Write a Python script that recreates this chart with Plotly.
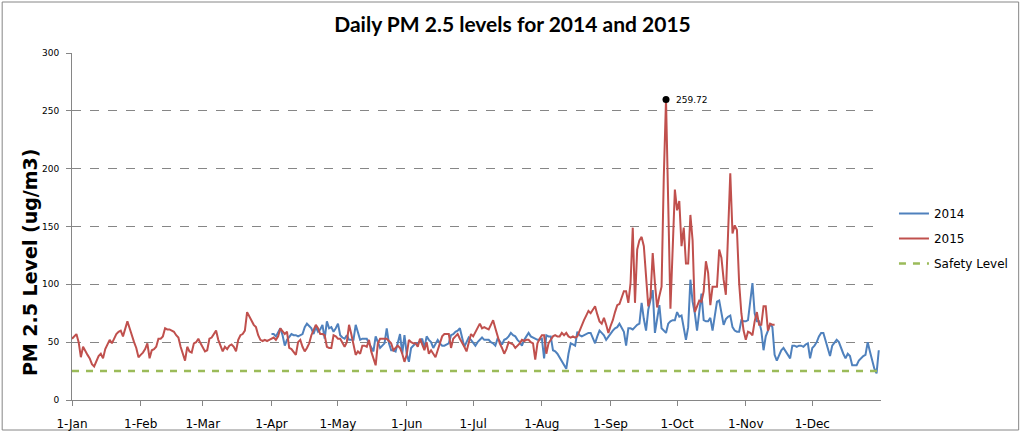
import plotly.graph_objects as go
import pandas as pd

# ---------------- data ----------------
YEAR_START = "2015-01-01"          # calendar used for the shared day-of-year axis
START_2014 = "2015-04-01"          # 2014 series begins on 1-Apr
SAFETY_LEVEL = 25

pm_2015 = [
    53, 55, 57, 50, 37, 46, 42, 39, 36, 31,
    29, 33, 38, 40, 36, 44, 48, 52, 49, 53,
    57, 59, 60, 55, 62, 68, 62, 55, 50, 45,
    37, 39, 41, 44, 49, 36, 43, 44, 46, 53,
    53, 55, 62, 61, 61, 60, 59, 56, 54, 46,
    40, 34, 46, 42, 41, 49, 50, 53, 49, 46,
    42, 43, 53, 54, 57, 60, 52, 47, 42, 46,
    44, 47, 48, 46, 42, 52, 56, 57, 60, 76,
    72, 68, 65, 63, 56, 52, 51, 52, 51, 52,
    53, 54, 52, 55, 62, 59, 57, 59, 45, 44,
    41, 39, 50, 52, 46, 42, 45, 49, 56, 60,
    65, 62, 57, 57, 56, 46, 45, 45, 56, 55,
    53, 53, 50, 46, 50, 65, 57, 49, 39, 42,
    40, 47, 47, 46, 52, 42, 36, 30, 49, 53,
    53, 53, 53, 51, 49, 43, 45, 47, 45, 40,
    33, 39, 52, 50, 49, 49, 46, 53, 48, 43,
    50, 40, 43, 40, 37, 43, 50, 55, 57, 57,
    57, 45, 53, 55, 57, 53, 50, 46, 42, 49,
    57, 55, 59, 62, 66, 62, 63, 62, 61, 65,
    69, 62, 55, 49, 45, 40, 44, 50, 49, 48,
    45, 47, 49, 52, 51, 52, 52, 50, 49, 35,
    49, 53, 56, 56, 40, 49, 52, 55, 56, 55,
    55, 58, 56, 58, 55, 54, 55, 54, 55, 60,
    64, 69, 73, 77, 75, 78, 81, 74, 68, 66,
    71, 65, 58, 64, 69, 76, 82, 83, 88, 94,
    94, 84, 101, 149, 84, 130, 138, 141, 133, 104,
    81, 89, 127, 101, 80, 90, 98, 193, 259.72, 170,
    79, 130, 182, 164, 172, 133, 149, 118, 118, 160,
    138, 76, 82, 86, 85, 94, 120, 110, 82, 98,
    98, 98, 130, 123, 104, 91, 144, 196, 144, 151,
    147, 101, 75, 60, 52, 59, 58, 56, 68, 76,
    65, 65, 81, 81, 60, 66, 65, 65,
]

pm_2014 = [
    57, 57, 55, 59, 62, 56, 47, 52, 55, 57,
    56, 56, 55, 56, 57, 63, 66, 64, 62, 57,
    63, 59, 61, 65, 53, 68, 62, 63, 59, 62,
    66, 56, 54, 53, 56, 52, 52, 52, 65, 58,
    52, 53, 53, 53, 49, 45, 42, 55, 50, 45,
    47, 49, 62, 49, 43, 43, 42, 50, 57, 40,
    56, 40, 33, 45, 47, 49, 49, 51, 53, 45,
    55, 52, 50, 45, 48, 52, 49, 47, 47, 48,
    49, 56, 57, 59, 60, 62, 55, 46, 50, 54,
    52, 49, 47, 50, 52, 54, 52, 52, 52, 50,
    49, 47, 53, 51, 48, 52, 53, 55, 58, 56,
    55, 52, 50, 47, 52, 55, 58, 55, 54, 53,
    52, 52, 53, 36, 56, 55, 55, 43, 42, 40,
    37, 34, 30, 27, 40, 49, 48, 47, 59, 56,
    55, 56, 57, 58, 58, 54, 49, 55, 60, 58,
    56, 52, 55, 58, 60, 62, 63, 66, 62, 59,
    47, 62, 62, 61, 63, 65, 66, 84, 70, 60,
    78, 86, 95, 58, 70, 82, 62, 60, 58, 66,
    68, 69, 69, 76, 72, 73, 62, 52, 63, 104,
    85, 75, 60, 75, 92, 69, 68, 68, 71, 60,
    72, 85, 86, 75, 65, 70, 72, 73, 63, 60,
    59, 59, 69, 68, 68, 69, 85, 101, 75, 68,
    68, 60, 43, 55, 60, 66, 63, 39, 34, 38,
    43, 45, 42, 40, 36, 47, 47, 46, 47, 47,
    46, 48, 49, 36, 45, 47, 50, 55, 58, 58,
    52, 45, 38, 47, 50, 52, 50, 44, 40, 36,
    40, 38, 30, 30, 30, 34, 36, 38, 39, 50,
    42, 33, 27, 23, 43,
]

month_labels = ["1-Jan", "1-Feb", "1-Mar", "1-Apr", "1-May", "1-Jun",
                "1-Jul", "1-Aug", "1-Sep", "1-Oct", "1-Nov", "1-Dec"]

# ---------------- derived ----------------
dates_2015 = pd.date_range(YEAR_START, periods=len(pm_2015), freq="D")
dates_2014 = pd.date_range(START_2014, periods=len(pm_2014), freq="D")
month_ticks = pd.date_range(YEAR_START, periods=len(month_labels), freq="MS")
year_days = pd.date_range(YEAR_START, periods=365, freq="D")
peak_idx = max(range(len(pm_2015)), key=lambda i: pm_2015[i])

BLUE = "#4F81BD"
RED = "#C0504D"
GREEN = "#9BBB59"
GRID = "#868686"

W, H = 1025, 442
L, R, T, B = 72, 142, 53, 42
PW, PH = W - L - R, H - T - B


def px_x(px):
    return (px - L) / PW


def px_y(py):
    return (H - B - py) / PH


fig = go.Figure()
fig.add_trace(go.Scatter(x=dates_2014, y=pm_2014, mode="lines", name="2014",
                         line=dict(color=BLUE, width=2), legendgroup="a"))
fig.add_trace(go.Scatter(x=dates_2015, y=pm_2015, mode="lines", name="2015",
                         line=dict(color=RED, width=2), legendgroup="b"))
fig.add_trace(go.Scatter(x=[year_days[0], year_days[-1]],
                         y=[SAFETY_LEVEL, SAFETY_LEVEL], mode="lines",
                         name="Safety Level", legendgroup="c",
                         line=dict(color=GREEN, width=2.5, dash="7px,7px")))
fig.add_trace(go.Scatter(x=[dates_2015[peak_idx]], y=[pm_2015[peak_idx]],
                         mode="markers", showlegend=False,
                         marker=dict(color="black", size=7)))
fig.add_annotation(x=dates_2015[peak_idx], y=pm_2015[peak_idx],
                   text=f"{pm_2015[peak_idx]:.2f}", showarrow=False,
                   xanchor="left", yanchor="middle", xshift=8,
                   font=dict(family="DejaVu Sans", size=9, color="black"))

fig.update_layout(
    width=W, height=H,
    margin=dict(l=L, r=R, t=T, b=B, pad=0),
    paper_bgcolor="white", plot_bgcolor="white",
    title=dict(text="<b>Daily PM 2.5 levels for 2014 and 2015</b>",
               x=0.5, xanchor="center", y=1 - 25 / H, yanchor="middle",
               font=dict(family="Lato", size=21, color="black")),
    legend=dict(x=px_x(896), xanchor="left", y=px_y(199), yanchor="top",
                font=dict(family="DejaVu Sans", size=12, color="black"),
                tracegroupgap=6, bgcolor="rgba(0,0,0,0)"),
    showlegend=True,
)

fig.update_xaxes(type="date", range=[YEAR_START, "2016-01-01"],
                 tickvals=month_ticks, ticktext=month_labels,
                 ticks="outside", ticklen=5, tickcolor=GRID,
                 showline=True, linecolor=GRID, linewidth=1,
                 showgrid=False, zeroline=False, ticklabelstandoff=8,
                 tickfont=dict(family="DejaVu Sans", size=12, color="black"))
fig.update_yaxes(range=[0, 300], dtick=50, tick0=0,
                 ticks="outside", ticklen=5, tickcolor=GRID,
                 showline=True, linecolor=GRID, linewidth=1,
                 showgrid=True, gridcolor=GRID, griddash="dash", gridwidth=1,
                 zeroline=False, ticklabelstandoff=5,
                 tickfont=dict(family="DejaVu Sans", size=9, color="black"))

fig.add_annotation(text="<b>PM 2.5 Level (ug/m3)</b>", textangle=-90,
                   xref="paper", yref="paper", x=px_x(30), y=px_y(262),
                   xanchor="center", yanchor="middle", showarrow=False,
                   font=dict(family="DejaVu Sans", size=19, color="black"))

fig.add_shape(type="rect", xref="paper", yref="paper",
              x0=px_x(2), x1=px_x(1021), y0=px_y(430), y1=px_y(2),
              line=dict(color=GRID, width=1), fillcolor="rgba(0,0,0,0)",
              layer="below")

fig.write_html("out.html", config={"displayModeBar": False},
               post_script="document.body.style.margin='0';document.body.style.overflow='hidden';")
